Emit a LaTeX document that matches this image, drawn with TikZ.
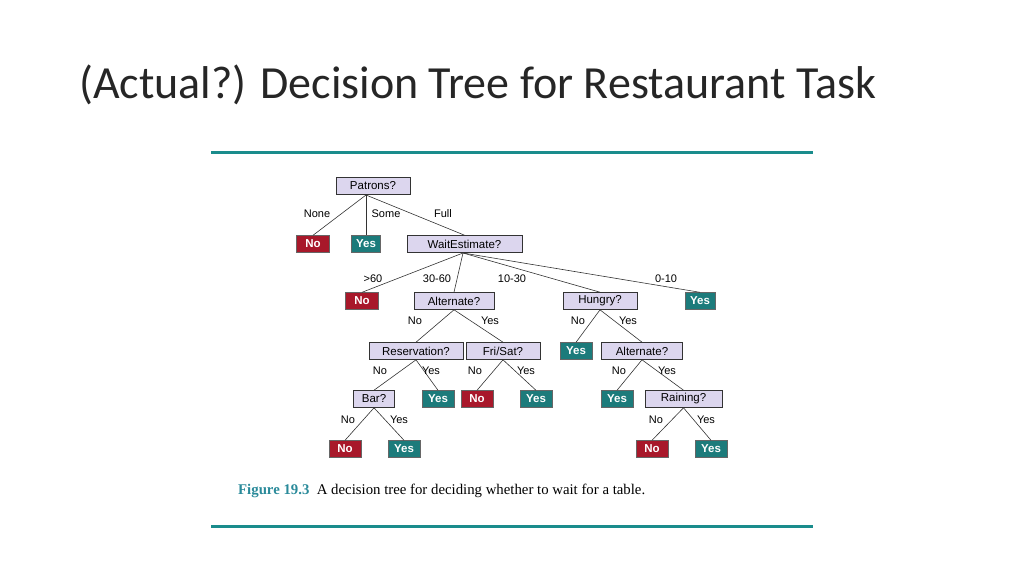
\documentclass[tikz,border=0pt]{standalone}
\usepackage{fontspec}
\setmainfont{Liberation Sans}
\newfontfamily\titlefont{Carlito}
\newfontfamily\capfont{Liberation Serif}
\definecolor{boxfill}{HTML}{DCD6EE}
\definecolor{nored}{HTML}{A8182A}
\definecolor{yesteal}{HTML}{1C7B7B}
\definecolor{rule}{HTML}{1A8C8C}
\definecolor{capteal}{HTML}{2A8A9A}
\tikzset{
  q/.style={draw=black!80,fill=boxfill,line width=0.6pt,minimum height=17pt,inner sep=0pt,font=\fontsize{11.5}{12}\selectfont},
  no/.style={draw=black!60,fill=nored,text=white,minimum height=17pt,minimum width=32pt,inner sep=0pt,font=\bfseries\fontsize{11.5}{12}\selectfont},
  yes/.style={no,fill=yesteal},
  lab/.style={font=\fontsize{11}{12}\selectfont,inner sep=0pt},
  br/.style={line width=0.6pt,black!80}
}
\begin{document}
\begin{tikzpicture}[x=1pt,y=-1pt]
\useasboundingbox (0,0) rectangle (1024,576);
\node[anchor=west,font=\titlefont\fontsize{46}{50}\selectfont,text=black!85,inner sep=0pt] (title) at (79,85) {(Actual?) Decision Tree for Restaurant Task};
\coordinate (r1a) at (211,152); \coordinate (r1b) at (813,152);
\coordinate (r2a) at (211,526); \coordinate (r2b) at (813,526);
\draw[rule,line width=3pt] (r1a) -- (r1b);
\draw[rule,line width=3pt] (r2a) -- (r2b);
\node[q,minimum width=74pt] (pat) at (373,186) {Patrons?};
\node[no,minimum width=33pt] (n1) at (313,244) {No};
\node[yes,minimum width=29pt] (y1) at (366,244) {Yes};
\node[q,minimum width=115pt] (wait) at (464.5,244) {WaitEstimate?};
\node[no,minimum width=33pt] (n2) at (362,301) {No};
\node[q,minimum width=80pt] (alt) at (454,301) {Alternate?};
\node[q,minimum width=74pt] (hun) at (600,301) {Hungry?};
\node[yes,minimum width=30pt] (y2) at (700,301) {Yes};
\node[q,minimum width=94pt] (res) at (416,351) {Reservation?};
\node[q,minimum width=74pt] (fri) at (503,351) {Fri/Sat?};
\node[yes] (y3) at (576,351) {Yes};
\node[q,minimum width=81pt] (alt2) at (642,351) {Alternate?};
\node[q,minimum width=41pt] (bar) at (374,399) {Bar?};
\node[yes] (y4) at (438,399) {Yes};
\node[no] (n3) at (477,399) {No};
\node[yes] (y5) at (536,399) {Yes};
\node[yes] (y6) at (617,399) {Yes};
\node[q,minimum width=77pt] (rain) at (683.5,399) {Raining?};
\node[no] (n4) at (345,449) {No};
\node[yes] (y7) at (404,449) {Yes};
\node[no] (n5) at (652,449) {No};
\node[yes] (y8) at (711,449) {Yes};
\coordinate (pb) at (366,195);
\foreach \c in {n1,y1,wait} \draw[br] (pb) -- (\c.north);
\coordinate (wb) at (463,253);
\foreach \c in {n2,alt,hun,y2} \draw[br] (wb) -- (\c.north);
\draw[br] (alt.south) -- (res.north); \draw[br] (alt.south) -- (fri.north);
\draw[br] (hun.south) -- (y3.north); \draw[br] (hun.south) -- (alt2.north);
\draw[br] (res.south) -- (bar.north); \draw[br] (res.south) -- (y4.north);
\draw[br] (fri.south) -- (n3.north); \draw[br] (fri.south) -- (y5.north);
\draw[br] (alt2.south) -- (y6.north); \draw[br] (alt2.south) -- (rain.north);
\draw[br] (bar.south) -- (n4.north); \draw[br] (bar.south) -- (y7.north);
\draw[br] (rain.south) -- (n5.north); \draw[br] (rain.south) -- (y8.north);
\node[lab] (l1) at (317,214) {None};
\node[lab] (l2) at (386,214) {Some};
\node[lab] (l3) at (443,214) {Full};
\node[lab] (l4) at (373,279) {>60};
\node[lab] (l5) at (437,279) {30-60};
\node[lab] (l6) at (512,279) {10-30};
\node[lab] (l7) at (666,279) {0-10};
\node[lab] (l8) at (415,321) {No};
\node[lab] (l9) at (490,321) {Yes};
\node[lab] (l10) at (578,321) {No};
\node[lab] (l11) at (628,321) {Yes};
\node[lab] (l12) at (380,371) {No};
\node[lab] (l13) at (431,371) {Yes};
\node[lab] (l14) at (475,371) {No};
\node[lab] (l15) at (526,371) {Yes};
\node[lab] (l16) at (619,371) {No};
\node[lab] (l17) at (667,371) {Yes};
\node[lab] (l18) at (348,420) {No};
\node[lab] (l19) at (399,420) {Yes};
\node[lab] (l20) at (656,420) {No};
\node[lab] (l21) at (706,420) {Yes};
\node[anchor=west,font=\capfont\fontsize{14.8}{16}\selectfont,inner sep=0pt] (cap) at (238,491) {\textcolor{capteal}{\bfseries Figure 19.3}\ \ A decision tree for deciding whether to wait for a table.};
\end{tikzpicture}
\end{document}
